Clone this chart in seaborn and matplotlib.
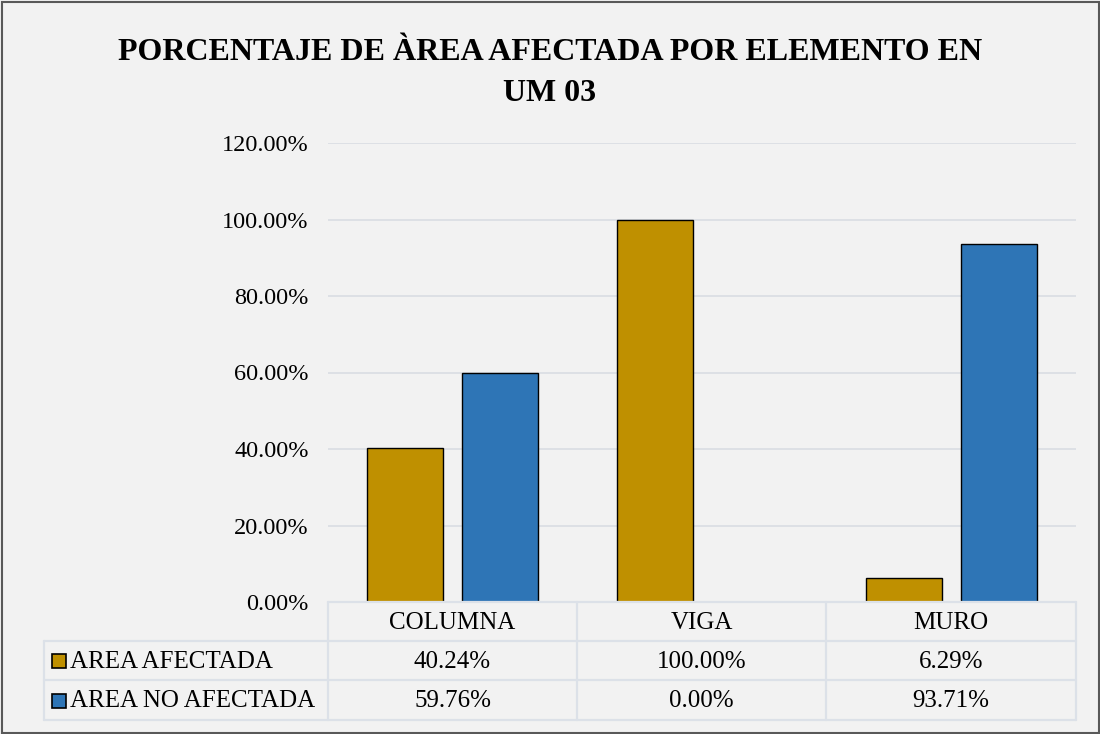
import matplotlib
matplotlib.use("Agg")
import matplotlib.pyplot as plt
import seaborn as sns
import pandas as pd
from matplotlib.patches import Rectangle
from matplotlib.lines import Line2D

categories = ["COLUMNA", "VIGA", "MURO"]
series_names = ["AREA AFECTADA", "AREA NO AFECTADA"]
afectada = [40.24, 100.00, 6.29]
no_afectada = [59.76, 0.00, 93.71]
colors = ["#BF9000", "#2E75B6"]
title = "PORCENTAJE DE ÀREA AFECTADA POR ELEMENTO EN\nUM 03"

sns.set_theme(style="white")
plt.rcParams["font.family"] = ["Liberation Serif", "DejaVu Serif"]
plt.rcParams["text.color"] = "black"
plt.rcParams["ytick.color"] = "black"

df = pd.DataFrame({
    "cat": categories * 2,
    "serie": [series_names[0]] * 3 + [series_names[1]] * 3,
    "val": [v / 100 for v in afectada] + [v / 100 for v in no_afectada],
})

W, H = 1100, 734
fig = plt.figure(figsize=(11, 7.34), dpi=100, facecolor="#F2F2F2")
ax = fig.add_axes([328 / W, 1 - 602 / H, (1076 - 328) / W, (602 - 143) / H])
ax.set_facecolor("#F2F2F2")

sns.barplot(data=df, x="cat", y="val", hue="serie", palette=colors,
            saturation=1, width=0.76, gap=0.2, edgecolor="black", linewidth=1.0,
            ax=ax, legend=False, zorder=3)

ax.set_ylim(0, 1.2)
ax.set_xlim(-0.5, 2.5)
ticks = [0, 0.2, 0.4, 0.6, 0.8, 1.0, 1.2]
ax.set_yticks(ticks)
ax.set_yticklabels([f"{t*100:.2f}%" for t in ticks], fontsize=17.5, color="black")
ax.tick_params(axis="y", length=0, pad=14)
ax.set_xticks([])
ax.set_xlabel("")
ax.set_ylabel("")
for s in ax.spines.values():
    s.set_visible(False)
ax.yaxis.grid(True, color="#D9DDE3", linewidth=1.2, zorder=0)
ax.set_axisbelow(True)

# Data table
def fx(px):
    return px / W
def fy(py):
    return 1 - py / H

line_c = "#DCE1E8"
lw = 1.6
ys = [602, 641, 680, 720]
xs = [328, 577, 826, 1076]
fig.add_artist(Line2D([fx(328), fx(1076)], [fy(602), fy(602)], color=line_c, lw=lw))
for y in ys[1:]:
    fig.add_artist(Line2D([fx(44), fx(1076)], [fy(y), fy(y)], color=line_c, lw=lw))
for x in xs:
    fig.add_artist(Line2D([fx(x), fx(x)], [fy(602), fy(720)], color=line_c, lw=lw))
fig.add_artist(Line2D([fx(44), fx(44)], [fy(641), fy(720)], color=line_c, lw=lw))

fs = 18
for i, c in enumerate(categories):
    cx = (xs[i] + xs[i + 1]) / 2
    fig.text(fx(cx), fy(623), c, ha="center", va="center", fontsize=fs)

rows = [afectada, no_afectada]
for r, (name, vals) in enumerate(zip(series_names, rows)):
    cy = (ys[r + 1] + ys[r + 2]) / 2
    fig.add_artist(Rectangle((fx(52), fy(cy + 7.5)), 14 / W, 14 / H,
                             facecolor=colors[r], edgecolor="black", lw=1.2,
                             transform=fig.transFigure))
    fig.text(fx(70), fy(cy + 1), name, ha="left", va="center", fontsize=fs)
    for i, v in enumerate(vals):
        cx = (xs[i] + xs[i + 1]) / 2
        fig.text(fx(cx), fy(cy + 1), f"{v:.2f}%", ha="center", va="center", fontsize=fs)

# title
fig.text(0.5, fy(73), title, ha="center", va="center", fontsize=23,
         fontweight="bold", linespacing=1.55)

# outer border
fig.add_artist(Rectangle((1.5 / W, 1.5 / H), 1 - 3 / W, 1 - 3 / H, fill=False,
                         edgecolor="#595959", lw=1.5, transform=fig.transFigure))

fig.savefig("out.png", dpi=100, facecolor=fig.get_facecolor())
